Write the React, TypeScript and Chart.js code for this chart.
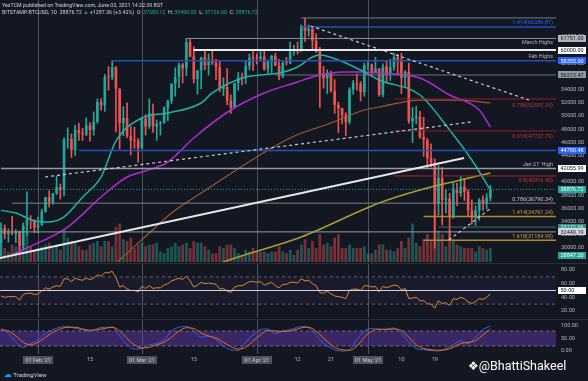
import React, { useEffect, useRef } from 'react';
import { Chart, registerables } from 'chart.js';

Chart.register(...registerables);

// ---------------- data ----------------
// day-of-year numbers (1 = 1 Jan 2021); first candle is 22 Jan 2021
const firstDay = 22;

const opens = [
  30800, 33000, 32100, 32300, 32200, 32500, 30400, 33400, 34300, 34250,
  33100, 33500, 35500, 37700, 36900, 38300, 39200, 38900, 46400, 46500, 44800, 47900, 47400, 47200, 48600, 47900, 49100, 52100, 51600, 55900, 55850, 57400, 54100, 48900, 49700, 47000, 46300, 46200,
  45200, 49600, 48400, 50400, 48400, 48800, 48900, 51200, 52300, 54900, 55900, 57800, 57200, 61200, 59000, 55600, 56900, 58900, 57700, 58300, 58100, 57400, 54100, 54400, 52300, 51300, 55000, 55800, 55780, 57600, 58800,
  58750, 58700, 59000, 57100, 58200, 59100, 57600, 56000, 58100, 58050, 59800, 60000, 59800, 63600, 62900, 63200, 61400, 60000, 56200, 55700, 56500, 53800, 51700, 51200, 50100, 49100, 54000, 55000, 54900, 53600,
  57700, 57800, 56600, 57200, 53200, 57500, 56400, 57400, 58900, 58300, 55800, 56700, 49200, 49700, 49900, 46800, 46400, 43600, 42900, 36700, 40600, 37300, 37500, 34700, 38800, 38300, 39300, 38500, 35700, 34600, 35700,
  37300, 36700, 37585,
];
const highs = [
  33800, 33500, 32900, 34800, 32800, 32600, 33800, 38500, 34900, 34300,
  34700, 35900, 37700, 38700, 38300, 40900, 39700, 46700, 48200, 47300, 48600, 48900, 48100, 49700, 49000, 50600, 52600, 52600, 56300, 57500, 58350, 57500, 54200, 51400, 52000, 48400, 48300, 46600,
  49800, 50200, 52600, 51800, 49400, 49200, 51400, 52400, 54900, 57300, 58000, 58000, 61750, 61600, 60500, 56900, 58900, 60000, 59400, 59900, 58600, 58400, 55800, 57200, 53200, 55000, 56600, 56500, 58400, 59400, 59800,
  59400, 60000, 59800, 58500, 59200, 59500, 58600, 58200, 58900, 61200, 60700, 61200, 63800, 64800, 63800, 63500, 62500, 60400, 57500, 57000, 56800, 55500, 52100, 51200, 50500, 54300, 55400, 56400, 55200, 58000,
  58400, 57900, 58900, 57200, 57900, 58300, 58600, 59500, 59300, 59500, 56900, 58000, 51300, 51500, 50700, 49800, 46600, 45800, 43500, 42500, 42200, 38800, 38300, 39900, 39800, 40800, 40400, 38800, 37300, 36400, 37500,
  37900, 38200, 39490,
];
const lows = [
  28800, 31400, 30900, 32000, 30800, 29200, 29900, 31900, 32900, 32300,
  32300, 33400, 35400, 36200, 36600, 38100, 37400, 37900, 45100, 43700, 44000, 46300, 46300, 47000, 46200, 47100, 48900, 50900, 50700, 53900, 55500, 47600, 45000, 47000, 46700, 44100, 45100, 43000,
  45000, 47100, 48100, 47500, 46300, 47100, 48900, 49300, 51900, 53000, 54300, 55000, 56100, 59000, 55000, 53300, 54100, 57000, 56200, 57800, 55500, 53700, 53100, 51700, 50400, 51300, 53900, 54700, 54900, 57000, 56900,
  57900, 58500, 56900, 56500, 56500, 57600, 55500, 55800, 57700, 57900, 59200, 59400, 59800, 61300, 62100, 60000, 59600, 51300, 54200, 53400, 53600, 50400, 47500, 48800, 47000, 48800, 53300, 53900, 52300, 53000,
  57000, 56000, 56500, 53000, 52900, 55200, 55400, 56900, 56300, 53400, 54500, 48900, 46000, 48800, 46600, 43900, 42100, 42300, 30000, 35000, 33500, 35300, 31100, 34500, 36400, 37800, 37200, 34800, 33600, 33400, 34200,
  35700, 35900, 37126,
];
const closes = [
  33000, 32100, 32300, 32200, 32500, 30400, 33400, 34300, 34250, 33100,
  33500, 35500, 37700, 36900, 38300, 39200, 38900, 46400, 46500, 44800, 47900, 47400, 47200, 48600, 47900, 49100, 52100, 51600, 55900, 55850, 57400, 54100, 48900, 49700, 47000, 46300, 46200, 45200,
  49600, 48400, 50400, 48400, 48800, 48900, 51200, 52300, 54900, 55900, 57800, 57200, 61200, 59000, 55600, 56900, 58900, 57700, 58300, 58100, 57400, 54100, 54400, 52300, 51300, 55000, 55800, 55780, 57600, 58800, 58750,
  58700, 59000, 57100, 58200, 59100, 57600, 56000, 58100, 58050, 59800, 60000, 59800, 63600, 62900, 63200, 61400, 60000, 56200, 55700, 56500, 53800, 51700, 51200, 50100, 49100, 54000, 55000, 54900, 53600, 57700,
  57800, 56600, 57200, 53200, 57500, 56400, 57400, 58900, 58300, 55800, 56700, 49200, 49700, 49900, 46800, 46400, 43600, 42900, 36700, 40600, 37300, 37500, 34700, 38800, 38300, 39300, 38500, 35700, 34600, 35700, 37300,
  36700, 37600, 38876.72,
];
const volumesK = [
  14, 8, 6, 10, 9, 12, 11, 20, 9, 7,
  8, 9, 10, 11, 8, 10, 7, 19, 14, 12, 11, 9, 7, 7, 10, 11, 12, 9, 12, 12, 9, 20, 22, 13, 12, 14, 8, 10,
  11, 9, 10, 10, 11, 6, 5, 8, 9, 11, 9, 10, 11, 8, 12, 11, 11, 9, 7, 5, 5, 9, 8, 10, 10, 8, 5, 4, 7, 6, 8,
  6, 6, 6, 5, 6, 6, 9, 6, 5, 7, 4, 7, 10, 13, 8, 12, 8, 16, 10, 11, 9, 14, 16, 8, 8, 10, 8, 8, 8, 9,
  5, 5, 7, 10, 10, 7, 7, 6, 8, 12, 8, 14, 22, 11, 9, 13, 16, 12, 30, 18, 16, 9, 18, 13, 10, 9, 8, 8, 8, 6, 9,
  8, 7, 8,
];

// moving averages: [day, price]
const maTeal = [[22, 35700], [26, 35300], [31, 34100], [35, 33940], [39, 34700], [44, 37700], [49, 40760], [53, 46200], [60, 49700], [67, 50450], [76, 51970], [79, 53490], [88, 55900], [97, 56500], [102, 57420], [106, 58940], [108, 59240], [113, 58480], [120, 56670], [124, 55450], [135, 53180], [143, 47880], [149, 43330], [154, 38790]];
const maMagenta = [[25, 29000], [29, 30000], [40, 33180], [49, 37730], [56, 40760], [60, 41520], [67, 43030], [74, 46670], [84, 50910], [93, 53490], [102, 55150], [106, 55910], [111, 56520], [115, 56670], [120, 56670], [124, 56520], [135, 55760], [143, 53180], [151, 50910], [154, 48330]];
const maBrown = [[52, 27000], [54, 28180], [62, 32270], [68, 35300], [76, 38330], [100, 46670], [111, 48940], [120, 50910], [124, 51360], [135, 52420], [146, 52420], [154, 51970]];
const maOlive = [[80, 27400], [82, 27880], [103, 31670], [124, 36820], [135, 38790], [146, 40300], [154, 41360]];

// RSI (daily) and Stoch RSI (every second day from day 22)
const rsiValues = [
  42, 40, 41, 41, 41, 36, 44, 46, 46, 44,
  45, 49, 54, 52, 55, 57, 56, 67, 67, 63, 68, 66, 65, 68, 66, 68, 73, 71, 76, 76, 78, 69, 55, 57, 52, 50, 50, 48,
  56, 53, 57, 53, 54, 54, 58, 60, 64, 66, 68, 66, 71, 64, 55, 58, 62, 60, 61, 60, 59, 52, 53, 49, 47, 55, 57, 57, 60, 63, 63,
  62, 63, 58, 60, 62, 57, 54, 59, 59, 62, 62, 61, 67, 64, 65, 60, 57, 47, 46, 49, 45, 42, 41, 40, 38, 50, 52, 52, 50, 57,
  57, 55, 56, 48, 56, 54, 56, 58, 57, 51, 53, 38, 39, 40, 35, 35, 31, 30, 24, 35, 31, 32, 28, 38, 37, 40, 38, 33, 31, 34, 38,
  37, 40, 45,
];
const stochK = [90, 70, 35, 15, 30, 45, 70, 85, 95, 98, 90, 85, 80, 90, 95, 95, 60, 25, 8, 10, 25, 30, 45, 80, 95, 98, 80, 55, 60, 45, 20, 5, 3, 35, 65, 85, 88, 70, 80, 85, 95, 98, 80, 45, 20, 5, 0, 5, 45, 80, 90, 85, 88, 92, 70, 35, 10, 5, 2, 0, 10, 25, 40, 30, 55, 85, 100];
const stochD = [85, 80, 60, 35, 25, 35, 55, 75, 88, 95, 95, 88, 83, 85, 90, 95, 80, 50, 25, 12, 15, 25, 35, 55, 80, 93, 90, 72, 60, 52, 35, 18, 8, 15, 40, 65, 82, 80, 78, 80, 88, 95, 90, 65, 38, 15, 5, 3, 20, 55, 80, 88, 86, 88, 82, 55, 25, 10, 5, 3, 5, 15, 30, 35, 42, 65, 88];

// horizontal levels
const levelValues = [64860, 63480, 61751, 60000, 58355, 56213.47, 52582.39, 47737.79, 44790.48, 42055.99, 40916.45, 38876.72, 36790.34, 34761.24, 33172.06, 32440.19, 31184.99];
const levelStartDays = [103, 103, 72, 74, 52, 96, 128, 128, 43, 22, 128, 22, 25, 136, 140, 22, 136];
const levelTexts = ['', '1.414(66286.81)', 'March Highs', '', 'Feb Highs', '', '0.786(52582.39)', '0.618(47737.79)', '', "Jan 21' High", '0.5(40916.45)', '', '0.786(36790.34)', '1.414(34761.24)', '', '', '1.618(31184.99)'];

// trend lines: [day1, price1, day2, price2]
const trendSolid = [[21.7, 28485, 146.9, 43636]];
const trendDashed = [[105.5, 63637, 164.4, 52426], [33.9, 40760, 148.8, 49093], [142.8, 31216, 154.2, 36064]];

// axis texts
const priceTicks = [30000, 32000, 34000, 36000, 38000, 40000, 42000, 44000, 46000, 48000, 50000, 52000, 54000, 56000, 58000, 60000, 62000];
const priceTags = [61751.0, 60000.0, 58355.0, 56213.47, 44790.48, 42055.99, 38876.72, 33172.06, 32440.19, 28847.2];
const rsiTicks = [80, 60, 40, 20];
const stochTicks = [100, 50, 0];
const monthDays = [32, 60, 91, 121];
const monthTexts = ["01 Feb '21", "01 Mar '21", "01 Apr '21", "01 May '21"];
const tickDays = [46, 74, 102, 111, 130, 139];
const tickTexts = ['15', '15', '12', '21', '10', '19'];

// ---------------- styles ----------------
const X_MIN = 21.73;
const X_MAX = 171.7;
const BG = '#131722';
const UP = '#26a69a';
const DOWN = '#ef5350';
const FONT = 'Roboto, "Liberation Sans", "DejaVu Sans", sans-serif';
const AXIS_TXT = '#b2b5be';

const levelStyles = [
  { c: '#787b86', w: 1, dash: [], dy: 0 },
  { c: '#2451b7', w: 1.5, dash: [], dy: -4 },
  { c: '#8a8d96', w: 1, dash: [], dy: 4 },
  { c: '#e8e9ec', w: 2, dash: [], dy: 0 },
  { c: '#2451b7', w: 1.5, dash: [], dy: -4 },
  { c: '#6f727c', w: 1, dash: [], dy: 0 },
  { c: '#8e1f28', w: 1, dash: [], dy: 7 },
  { c: '#8e1f28', w: 1, dash: [], dy: 6 },
  { c: '#2451b7', w: 1.5, dash: [], dy: 0 },
  { c: '#9598a1', w: 1.5, dash: [], dy: -3.5 },
  { c: '#b8202c', w: 1, dash: [], dy: 5 },
  { c: '#26a69a', w: 1, dash: [1, 2], dy: 0 },
  { c: '#7d808a', w: 1, dash: [], dy: -3.5 },
  { c: '#b08a2a', w: 1.5, dash: [], dy: -3.5 },
  { c: '#3f6f6c', w: 1, dash: [], dy: 0 },
  { c: '#9598a1', w: 1, dash: [], dy: 0 },
  { c: '#b08a2a', w: 1.5, dash: [], dy: -3.5 },
];
const levelTextColors = ['', '#2962ff', '#b2b5be', '', '#b2b5be', '', '#c2323c', '#c2323c', '', '#b2b5be', '#d02f3a', '', '#c0c3cb', '#c9a23a', '', '', '#c9a23a'];
const tagStyles = [
  { bg: '#b2b5be', fg: '#131722' },
  { bg: '#ffffff', fg: '#131722' },
  { bg: '#2962ff', fg: '#ffffff' },
  { bg: '#9598a1', fg: '#131722' },
  { bg: '#2962ff', fg: '#ffffff' },
  { bg: '#ffffff', fg: '#131722' },
  { bg: '#26a69a', fg: '#ffffff' },
  { bg: '#2f8f87', fg: '#e8e8e8' },
  { bg: '#d1d4dc', fg: '#131722' },
  { bg: '#26a69a', fg: '#ffffff' },
];

function drawTag(ctx: any, x: number, y: number, text: string, bg: string, fg: string) {
  ctx.fillStyle = bg;
  ctx.fillRect(x, Math.round(y - 3.5), 28, 7);
  ctx.fillStyle = fg;
  ctx.textAlign = 'left';
  ctx.textBaseline = 'middle';
  ctx.fillText(text, x + 2.5, y + 0.5);
}

const monthLines = {
  id: 'monthLines',
  beforeDatasetsDraw(chart: any) {
    const { ctx, chartArea, scales } = chart;
    ctx.save();
    ctx.strokeStyle = '#4e525d';
    ctx.lineWidth = 1;
    for (const d of monthDays) {
      const x = Math.round(scales.x.getPixelForValue(d)) + 0.5;
      ctx.beginPath();
      ctx.moveTo(x, chartArea.top);
      ctx.lineTo(x, chartArea.bottom);
      ctx.stroke();
    }
    ctx.restore();
  },
};

const mainAxis = {
  id: 'mainAxis',
  afterDraw(chart: any) {
    const { ctx, chartArea, scales } = chart;
    const y = scales.y;
    ctx.save();
    ctx.font = `5.5px ${FONT}`;
    ctx.textBaseline = 'middle';
    ctx.textAlign = 'right';
    levelValues.forEach((v, i) => {
      if (!levelTexts[i]) return;
      ctx.fillStyle = levelTextColors[i];
      ctx.fillText(levelTexts[i], chartArea.right - 3, y.getPixelForValue(v) + levelStyles[i].dy);
    });
    ctx.textAlign = 'left';
    ctx.fillStyle = AXIS_TXT;
    for (const v of priceTicks) ctx.fillText(v.toFixed(2), chartArea.right + 5, y.getPixelForValue(v));
    priceTags.forEach((v, i) => {
      drawTag(ctx, chartArea.right + 2, y.getPixelForValue(v), v.toFixed(2), tagStyles[i].bg, tagStyles[i].fg);
    });
    ctx.restore();
  },
};

const rsiPlugin = {
  id: 'rsiPlugin',
  beforeDatasetsDraw(chart: any) {
    const { ctx, chartArea, scales } = chart;
    ctx.save();
    const t = scales.y.getPixelForValue(70);
    const b = scales.y.getPixelForValue(30);
    ctx.fillStyle = 'rgba(126,87,194,0.07)';
    ctx.fillRect(chartArea.left, t, chartArea.right - chartArea.left, b - t);
    ctx.restore();
  },
  afterDraw(chart: any) {
    const { ctx, chartArea, scales } = chart;
    ctx.save();
    ctx.font = `5.5px ${FONT}`;
    ctx.textBaseline = 'middle';
    ctx.textAlign = 'left';
    ctx.fillStyle = AXIS_TXT;
    for (const v of rsiTicks) ctx.fillText(v.toFixed(2), chartArea.right + 5, scales.y.getPixelForValue(v));
    drawTag(ctx, chartArea.right + 2, scales.y.getPixelForValue(50), (50).toFixed(2), '#ffffff', '#131722');
    ctx.strokeStyle = '#2a2e39';
    ctx.beginPath();
    ctx.moveTo(0, 0.5);
    ctx.lineTo(chart.width, 0.5);
    ctx.stroke();
    ctx.restore();
  },
};

const stochPlugin = {
  id: 'stochPlugin',
  beforeDatasetsDraw(chart: any) {
    const { ctx, chartArea, scales } = chart;
    ctx.save();
    const t = scales.y.getPixelForValue(80);
    const b = scales.y.getPixelForValue(20);
    ctx.fillStyle = 'rgba(103,58,183,0.45)';
    ctx.fillRect(chartArea.left, t, chartArea.right - chartArea.left, b - t);
    ctx.restore();
  },
  afterDraw(chart: any) {
    const { ctx, chartArea, scales } = chart;
    ctx.save();
    ctx.font = `5.5px ${FONT}`;
    ctx.textBaseline = 'middle';
    ctx.textAlign = 'left';
    ctx.fillStyle = AXIS_TXT;
    for (const v of stochTicks) ctx.fillText(v.toFixed(2), chartArea.right + 5, scales.y.getPixelForValue(v));
    ctx.strokeStyle = '#2a2e39';
    ctx.beginPath();
    ctx.moveTo(0, 0.5);
    ctx.lineTo(chart.width, 0.5);
    ctx.stroke();
    const ty = chartArea.bottom + 6;
    ctx.textAlign = 'center';
    tickDays.forEach((d, i) => {
      ctx.fillStyle = AXIS_TXT;
      ctx.fillText(tickTexts[i], scales.x.getPixelForValue(d), ty);
    });
    monthDays.forEach((d, i) => {
      const x = scales.x.getPixelForValue(d);
      ctx.fillStyle = '#50535e';
      ctx.fillRect(Math.round(x - 15), ty - 4, 30, 8);
      ctx.fillStyle = '#c8cad1';
      ctx.fillText(monthTexts[i], x, ty + 0.5);
    });
    ctx.restore();
  },
};

const baseOptions = (yMin: number, yMax: number, bottomPad: number) => ({
  animation: false,
  responsive: false,
  maintainAspectRatio: false,
  devicePixelRatio: 1,
  events: [],
  layout: { padding: { left: 0, right: 32, top: 0, bottom: bottomPad } },
  plugins: { legend: { display: false }, tooltip: { enabled: false } },
  scales: {
    x: { type: 'linear', min: X_MIN, max: X_MAX, display: false, offset: false },
    y: { type: 'linear', min: yMin, max: yMax, display: false },
  },
});

const pts = (arr: number[][]) => arr.map((p) => ({ x: p[0], y: p[1] }));

function makeMain(canvas: HTMLCanvasElement) {
  const colors = opens.map((o, i) => (closes[i] >= o ? UP : DOWN));
  const volColors = opens.map((o, i) => (closes[i] >= o ? 'rgba(38,166,154,0.45)' : 'rgba(239,83,80,0.45)'));
  const datasets: any[] = [];
  datasets.push({
    type: 'bar', yAxisID: 'vol', order: 10, grouped: false,
    data: volumesK.map((v, i) => ({ x: firstDay + i, y: v })),
    backgroundColor: volColors, barPercentage: 0.75, categoryPercentage: 1,
  });
  datasets.push({
    type: 'bar', yAxisID: 'y', order: 4, grouped: false,
    data: highs.map((h, i) => ({ x: firstDay + i, y: [lows[i], h] })),
    backgroundColor: colors, barThickness: 1,
  });
  datasets.push({
    type: 'bar', yAxisID: 'y', order: 3, grouped: false,
    data: opens.map((o, i) => ({ x: firstDay + i, y: [o, closes[i]] })),
    backgroundColor: colors, barPercentage: 0.72, categoryPercentage: 1, minBarLength: 1,
  });
  const maDefs: [number[][], string, number][] = [
    [maTeal, '#1fb3a3', 1.5],
    [maMagenta, '#b02ad0', 1.5],
    [maBrown, '#9a5a2e', 1.2],
    [maOlive, '#a8a030', 1.5],
  ];
  for (const [arr, c, w] of maDefs) {
    datasets.push({
      type: 'line', yAxisID: 'y', order: 2, data: pts(arr), borderColor: c, borderWidth: w,
      pointRadius: 0, cubicInterpolationMode: 'monotone', tension: 0.4, fill: false,
    });
  }
  levelValues.forEach((v, i) => {
    const s = levelStyles[i];
    datasets.push({
      type: 'line', yAxisID: 'y', order: 1,
      data: [{ x: levelStartDays[i], y: v }, { x: X_MAX, y: v }],
      borderColor: s.c, borderWidth: s.w, borderDash: s.dash, pointRadius: 0, fill: false,
    });
  });
  for (const t of trendSolid) {
    datasets.push({
      type: 'line', yAxisID: 'y', order: 0, data: [{ x: t[0], y: t[1] }, { x: t[2], y: t[3] }],
      borderColor: '#e6e7ea', borderWidth: 2, pointRadius: 0, fill: false,
    });
  }
  for (const t of trendDashed) {
    datasets.push({
      type: 'line', yAxisID: 'y', order: 0, data: [{ x: t[0], y: t[1] }, { x: t[2], y: t[3] }],
      borderColor: '#c9cbd1', borderWidth: 1.2, borderDash: [3, 3], pointRadius: 0, fill: false,
    });
  }
  const options: any = baseOptions(27879, 67576, 0);
  options.scales.vol = { type: 'linear', min: 0, max: 150, display: false };
  return new Chart(canvas, { type: 'bar', data: { datasets }, options, plugins: [monthLines, mainAxis] } as any);
}

function makeRsi(canvas: HTMLCanvasElement) {
  const datasets: any[] = [
    { data: [{ x: X_MIN, y: 70 }, { x: X_MAX, y: 70 }], borderColor: '#5d606b', borderWidth: 1, borderDash: [3, 3], pointRadius: 0 },
    { data: [{ x: X_MIN, y: 30 }, { x: X_MAX, y: 30 }], borderColor: '#5d606b', borderWidth: 1, borderDash: [3, 3], pointRadius: 0 },
    { data: [{ x: X_MIN, y: 50 }, { x: X_MAX, y: 50 }], borderColor: '#d1d4dc', borderWidth: 1.2, pointRadius: 0 },
    { data: rsiValues.map((v, i) => ({ x: firstDay + i, y: v })), borderColor: '#e08a2c', borderWidth: 1, pointRadius: 0, tension: 0 },
  ];
  return new Chart(canvas, { type: 'line', data: { datasets }, options: baseOptions(9.72, 90.25, 0), plugins: [monthLines, rsiPlugin] } as any);
}

function makeStoch(canvas: HTMLCanvasElement) {
  const datasets: any[] = [
    { data: [{ x: X_MIN, y: 80 }, { x: X_MAX, y: 80 }], borderColor: '#6d6f7a', borderWidth: 1, borderDash: [3, 3], pointRadius: 0 },
    { data: [{ x: X_MIN, y: 20 }, { x: X_MAX, y: 20 }], borderColor: '#6d6f7a', borderWidth: 1, borderDash: [3, 3], pointRadius: 0 },
    { data: stochD.map((v, i) => ({ x: firstDay + 2 * i, y: v })), borderColor: '#ff6d00', borderWidth: 1, pointRadius: 0, tension: 0.4, cubicInterpolationMode: 'monotone' },
    { data: stochK.map((v, i) => ({ x: firstDay + 2 * i, y: v })), borderColor: '#2962ff', borderWidth: 1, pointRadius: 0, tension: 0.4, cubicInterpolationMode: 'monotone' },
  ];
  return new Chart(canvas, { type: 'line', data: { datasets }, options: baseOptions(-12, 128, 12), plugins: [monthLines, stochPlugin] } as any);
}

export default function App() {
  const mainRef = useRef<HTMLCanvasElement>(null);
  const rsiRef = useRef<HTMLCanvasElement>(null);
  const stRef = useRef<HTMLCanvasElement>(null);

  useEffect(() => {
    document.body.style.margin = '0';
    document.body.style.background = BG;
    const charts = [makeMain(mainRef.current!), makeRsi(rsiRef.current!), makeStoch(stRef.current!)];
    return () => charts.forEach((c) => c.destroy());
  }, []);

  const teal = { color: UP };
  return (
    <div style={{ position: 'relative', width: 588, height: 381, background: BG, overflow: 'hidden', fontFamily: FONT }}>
      <canvas ref={mainRef} width={588} height={262} style={{ position: 'absolute', left: 0, top: 0 }} />
      <canvas ref={rsiRef} width={588} height={55} style={{ position: 'absolute', left: 0, top: 263 }} />
      <canvas ref={stRef} width={588} height={47} style={{ position: 'absolute', left: 0, top: 319 }} />
      <div style={{ position: 'absolute', left: 2, top: 1.5, fontSize: 5.3, lineHeight: '7px', color: '#d1d4dc', whiteSpace: 'nowrap' }}>
        <div>YesTCM published on TradingView.com, June 03, 2021 14:22:39 BST</div>
        <div>
          BITSTAMP:BTCUSD, 1D&nbsp; 38876.72 <span style={teal}>▲</span> +1287.36 (+3.42%)&nbsp; O: <span style={teal}>37585.12</span>&nbsp; H: <span style={teal}>39490.00</span>&nbsp; L: <span style={teal}>37126.00</span>&nbsp; C: <span style={teal}>38876.72</span>
        </div>
      </div>
      <div style={{ position: 'absolute', left: 4, top: 371, fontSize: 6, lineHeight: '8px', color: '#d1d4dc', whiteSpace: 'nowrap' }}>
        <span style={{ color: '#2196f3', fontSize: 8 }}>☁</span> TradingView
      </div>
      <div style={{ position: 'absolute', left: 468, top: 358, fontSize: 12.5, lineHeight: '16px', fontWeight: 400, color: '#ffffff', whiteSpace: 'nowrap' }}>
        <span style={{ fontSize: 12 }}>❖</span>@BhattiShakeel
      </div>
    </div>
  );
}
